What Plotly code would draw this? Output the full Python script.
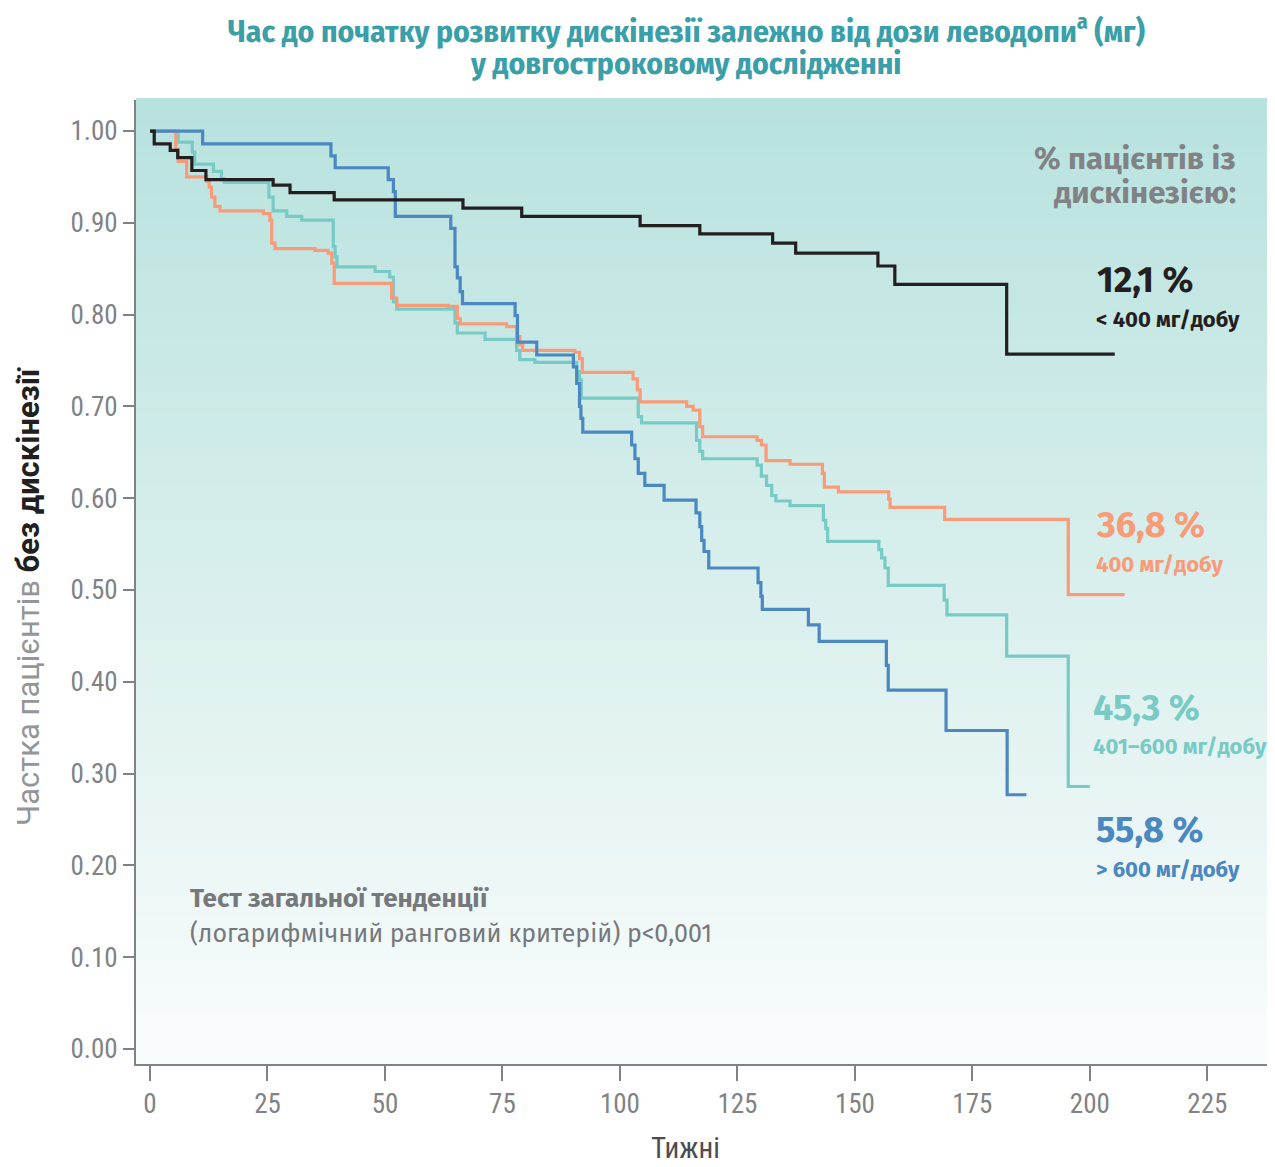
import plotly.graph_objects as go

# ---- data (weeks, proportion free of dyskinesia) ----
black_t = [0, 0.9, 4.3, 5.9, 8.9, 11.9, 26.2, 29.8, 39.2, 66.6, 79.1, 104.3, 117.0, 132.5, 137.4, 154.9, 158.5, 182.3, 205.3]
black_s = [1.0, 0.986, 0.979, 0.971, 0.957, 0.947, 0.941, 0.933, 0.925, 0.916, 0.907, 0.897, 0.888, 0.878, 0.867, 0.853, 0.833, 0.757, 0.757]

blue_t = [0, 11.2, 38.5, 39.4, 50.7, 51.8, 52.2, 64.0, 64.9, 65.4, 66.0, 66.5, 77.7, 78.2, 82.3, 90.1, 90.8, 91.4, 91.7, 92.1,
          102.5, 103.2, 103.9, 105.3, 109.4, 116.2, 117.0, 117.4, 117.9, 118.9, 129.4, 130.0, 130.3, 140.1, 142.4,
          156.7, 157.1, 169.4, 182.4, 186.5]
blue_s = [1.0, 0.986, 0.973, 0.960, 0.947, 0.934, 0.907, 0.894, 0.852, 0.840, 0.825, 0.812, 0.799, 0.770, 0.756, 0.743, 0.725, 0.700, 0.687, 0.672,
          0.658, 0.643, 0.627, 0.614, 0.598, 0.584, 0.569, 0.554, 0.542, 0.524, 0.508, 0.493, 0.479, 0.462, 0.444,
          0.418, 0.391, 0.347, 0.277, 0.277]

teal_t = [0, 6.0, 9.0, 9.5, 13.5, 15.2, 15.8, 25.3, 26.2, 29.1, 32.3, 39.0, 39.4, 39.8, 47.9, 51.0, 51.8, 52.5, 64.9, 65.4,
          71.3, 78.0, 78.7, 81.9, 90.8, 91.4, 91.8, 103.9, 104.6, 116.3, 117.0, 117.6, 129.2, 130.1, 131.2, 132.3, 133.2,
          136.2, 143.3, 143.8, 144.2, 155.1, 155.7, 156.4, 157.1, 169.0, 169.6, 182.3, 195.4, 200.0]
teal_s = [1.0, 0.988, 0.977, 0.964, 0.956, 0.948, 0.944, 0.928, 0.913, 0.907, 0.903, 0.874, 0.863, 0.852, 0.847, 0.841, 0.814, 0.806, 0.791, 0.780,
          0.773, 0.761, 0.751, 0.748, 0.738, 0.729, 0.709, 0.689, 0.682, 0.663, 0.651, 0.643, 0.636, 0.624, 0.614, 0.603, 0.597,
          0.592, 0.576, 0.567, 0.553, 0.544, 0.535, 0.524, 0.505, 0.489, 0.473, 0.428, 0.286, 0.286]

orange_t = [0, 5.5, 6.0, 7.8, 12.1, 12.6, 13.1, 13.8, 14.9, 24.1, 25.5, 25.9, 26.6, 35.1, 37.9, 38.7, 39.2, 51.4, 52.5, 63.5,
            65.4, 66.0, 75.9, 78.0, 78.7, 79.3, 90.4, 91.4, 92.0, 102.8, 103.7, 104.3, 114.2, 115.6, 117.0, 117.6,
            129.2, 130.1, 131.1, 136.2, 143.1, 143.5, 146.5, 157.2, 157.5, 169.1, 195.4, 207.4]
orange_s = [1.0, 0.980, 0.967, 0.950, 0.945, 0.939, 0.928, 0.918, 0.913, 0.910, 0.903, 0.878, 0.872, 0.870, 0.867, 0.856, 0.834, 0.818, 0.810, 0.809,
            0.796, 0.790, 0.787, 0.776, 0.767, 0.761, 0.759, 0.752, 0.737, 0.730, 0.718, 0.705, 0.700, 0.696, 0.678, 0.667,
            0.663, 0.658, 0.641, 0.637, 0.627, 0.612, 0.607, 0.599, 0.590, 0.577, 0.495, 0.495]

x_ticks = [0, 25, 50, 75, 100, 125, 150, 175, 200, 225]
y_ticks = [0.0, 0.1, 0.2, 0.3, 0.4, 0.5, 0.6, 0.7, 0.8, 0.9, 1.0]

C_BLACK = "#231f20"
C_BLUE = "#4b87c0"
C_TEAL = "#78cbc5"
C_ORANGE = "#f99b78"
C_GRAY = "#808285"
C_TITLE = "#3a9fa8"

fig = go.Figure()

# gradient background in plot area
N = 80
top = (184, 226, 222)
bot = (249, 252, 252)
for i in range(N):
    f = i / (N - 1)
    col = tuple(round(top[k] + (bot[k] - top[k]) * f) for k in range(3))
    fig.add_shape(type="rect", xref="paper", yref="paper",
                  x0=0, x1=1, y0=1 - (i + 1) / N, y1=1 - i / N + 0.002,
                  fillcolor="rgb(%d,%d,%d)" % col, line_width=0, layer="below")

for t, s, c in [(teal_t, teal_s, C_TEAL), (orange_t, orange_s, C_ORANGE),
                (blue_t, blue_s, C_BLUE), (black_t, black_s, C_BLACK)]:
    fig.add_trace(go.Scatter(x=t, y=s, mode="lines", line=dict(color=c, width=3.2, shape="hv"),
                             showlegend=False, hoverinfo="skip"))

LBL = "Fira Sans, Noto Sans, sans-serif"
COND = "Fira Sans Condensed, Noto Sans, sans-serif"
NARROW = "Liberation Sans Narrow, Roboto Condensed, Arial Narrow, sans-serif"

def px2paper(px, py):
    return (px - 136) / 1139, (1064 - py) / 964

def ann(text, px, py, color, size, xanchor="left", bold=True, family=LBL):
    x, y = px2paper(px, py)
    fig.add_annotation(text=("<b>%s</b>" % text) if bold else text, x=x, y=y, xref="paper", yref="paper",
                       xanchor=xanchor, yanchor="middle", showarrow=False,
                       font=dict(family=family, size=size, color=color))

# title (two lines)
ann("Час до початку розвитку дискінезії залежно від дози леводопи<sup>a</sup> (мг)", 686, 29, C_TITLE, 31.5,
    xanchor="center", family=COND)
ann("у довгостроковому дослідженні", 686, 64, C_TITLE, 31.5, xanchor="center", family=COND)

ann("% пацієнтів із", 1238, 158, C_GRAY, 31, xanchor="right")
ann("дискінезією:", 1238, 192, C_GRAY, 31, xanchor="right")
ann("12,1 %", 1095, 280, C_BLACK, 36)
ann("&lt; 400 мг/добу", 1094, 319, C_BLACK, 22)
ann("36,8 %", 1094, 525, C_ORANGE, 36)
ann("400 мг/добу", 1094, 564, C_ORANGE, 22)
ann("45,3 %", 1091, 708, C_TEAL, 36)
ann("401–600 мг/добу", 1091, 746, C_TEAL, 22)
ann("55,8 %", 1094, 830, C_BLUE, 36)
ann("&gt; 600 мг/добу", 1094, 869, C_BLUE, 22)
ann("Тест загальної тенденції", 188, 898, "#77787b", 26)
ann("(логарифмічний ранговий критерій) p&lt;0,001", 188, 934, "#77787b", 25, bold=False)

# axis titles
x, y = px2paper(28, 596)
fig.add_annotation(text="Частка пацієнтів <b><span style='color:#231f20'>без дискінезії</span></b>",
                   x=x, y=y, xref="paper", yref="paper", textangle=-90, showarrow=False,
                   xanchor="center", yanchor="middle",
                   font=dict(family="Roboto, sans-serif", size=31, color="#939598"))
x, y = px2paper(685, 1148)
fig.add_annotation(text="Тижні", x=x, y=y, xref="paper", yref="paper", showarrow=False,
                   xanchor="center", yanchor="middle",
                   font=dict(family=NARROW, size=29, color="#4d4d4f"))

fig.update_layout(
    width=1267, height=1159,
    margin=dict(l=128, r=0, t=92, b=103),
    paper_bgcolor="white", plot_bgcolor="rgba(0,0,0,0)",
    xaxis=dict(range=[-2.98, 239.4], tickvals=x_ticks, showgrid=False, zeroline=False,
               showline=True, linecolor=C_GRAY, linewidth=2, ticks="outside", ticklen=15,
               tickwidth=2, tickcolor=C_GRAY,
               tickfont=dict(family=NARROW, size=27, color=C_GRAY)),
    yaxis=dict(range=[-0.0163, 1.0338], tickvals=y_ticks, tickformat=".2f", showgrid=False, zeroline=False,
               showline=True, linecolor=C_GRAY, linewidth=2, ticks="outside", ticklen=11,
               tickwidth=2, tickcolor=C_GRAY,
               tickfont=dict(family=NARROW, size=27, color=C_GRAY)),
)

fig.write_html("out.html")
